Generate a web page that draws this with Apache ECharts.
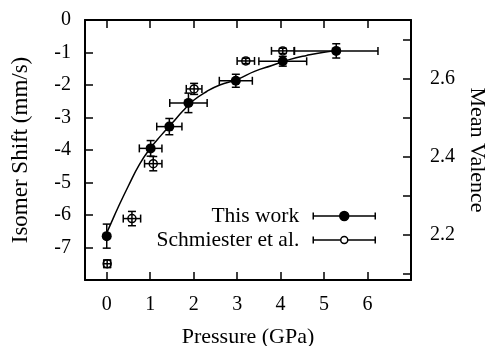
<!DOCTYPE html>
<html>
<head>
<meta charset="utf-8">
<script src="https://cdn.jsdelivr.net/npm/echarts@6/dist/echarts.min.js"></script>
<style>
  html, body { margin: 0; padding: 0; background: #fff; }
  #chart { width: 493px; height: 346px; }
</style>
</head>
<body>
<div id="chart"></div>
<script>
// this work
const thisP = [0, 1.01, 1.44, 1.88, 2.97, 4.05, 5.28]
const thisIS = [-6.65, -3.95, -3.28, -2.55, -1.87, -1.27, -0.95]
const thisPErr = [0, 0.26, 0.29, 0.43, 0.38, 0.55, 0.96]
const thisISErr = [0.37, 0.24, 0.25, 0.3, 0.2, 0.15, 0.22]

// Schmiester et al.
const schP = [0.01, 0.58, 1.07, 2.01, 3.2, 4.05]
const schIS = [-7.5, -6.11, -4.42, -2.12, -1.26, -0.95]
const schPErr = [0.08, 0.2, 0.2, 0.18, 0.2, 0.26]
const schISErr = [0.12, 0.22, 0.22, 0.17, 0.08, 0.08]

// fit curve
const fitP = [0, 0.1, 0.25, 0.5, 0.75, 1.0, 1.25, 1.5, 1.75, 2.0, 2.3, 2.6, 3.0, 3.4, 3.8, 4.2, 4.6, 5.0, 5.3]
const fitIS = [-6.55, -6.25, -5.8, -5.1, -4.45, -3.95, -3.55, -3.18, -2.8, -2.47, -2.2, -2.0, -1.83, -1.58, -1.4, -1.22, -1.09, -0.99, -0.95]

const pressureTicks = [0, 1, 2, 3, 4, 5, 6]
const valenceTicks = [2.1, 2.2, 2.3, 2.4, 2.5, 2.6, 2.7]
const valenceLabels = [2.2, 2.4, 2.6]

const FONT = 'Liberation Serif'

const errData = (p, is, pe, ie) => p.map((v, i) => [v, is[i], pe[i], ie[i]])

const renderErr = (params, api) => {
  const x = api.value(0), y = api.value(1)
  const xe = api.value(2), ye = api.value(3)
  const style = { stroke: '#000', lineWidth: 1.5 }
  const cap = 4
  const children = []
  if (ye > 0) {
    const a = api.coord([x, y + ye]), b = api.coord([x, y - ye])
    children.push({ type: 'line', shape: { x1: a[0], y1: a[1], x2: b[0], y2: b[1] }, style })
    children.push({ type: 'line', shape: { x1: a[0] - cap, y1: a[1], x2: a[0] + cap, y2: a[1] }, style })
    children.push({ type: 'line', shape: { x1: b[0] - cap, y1: b[1], x2: b[0] + cap, y2: b[1] }, style })
  }
  if (xe > 0) {
    const a = api.coord([x - xe, y]), b = api.coord([x + xe, y])
    children.push({ type: 'line', shape: { x1: a[0], y1: a[1], x2: b[0], y2: b[1] }, style })
    children.push({ type: 'line', shape: { x1: a[0], y1: a[1] - cap, x2: a[0], y2: a[1] + cap }, style })
    children.push({ type: 'line', shape: { x1: b[0], y1: b[1] - cap, x2: b[0], y2: b[1] + cap }, style })
  }
  return { type: 'group', children }
}

const legendIconFilled = 'path://M0,0M62,9M0,4.5L62,4.5M0,1L0,8M62,1L62,8M35.5,4.5A4.5,4.5,0,1,1,26.5,4.5A4.5,4.5,0,1,1,35.5,4.5Z'
const legendIconOpen = 'path://M0,0M62,9M0,4.5L27.5,4.5M34.5,4.5L62,4.5M0,1L0,8M62,1L62,8M34.5,4.5A3.5,3.5,0,1,1,27.5,4.5A3.5,3.5,0,1,1,34.5,4.5Z'

const chart = echarts.init(document.getElementById('chart'))

const axisLine = { show: true, onZero: false, lineStyle: { color: '#000', width: 2 } }
const tickStyle = { color: '#000', width: 1.5 }

chart.setOption({
  animation: false,
  textStyle: { fontFamily: FONT },
  grid: { left: 85, top: 20, right: 82, bottom: 66, containLabel: false, outerBoundsMode: 'none' },
  legend: {
    orient: 'vertical',
    right: 112,
    top: 200,
    align: 'right',
    itemWidth: 62,
    itemHeight: 9,
    itemGap: 2,
    selectedMode: false,
    textStyle: { fontFamily: FONT, fontSize: 21.5, color: '#000', lineHeight: 21, padding: [0, 9, 0, 0] },
    data: [
      { name: 'This work', icon: legendIconFilled, itemStyle: { color: '#000', borderColor: '#000', borderWidth: 1.5 } },
      { name: 'Schmiester et al.', icon: legendIconOpen, itemStyle: { color: 'rgba(0,0,0,0)', borderColor: '#000', borderWidth: 1.5 } }
    ]
  },
  xAxis: [
    {
      type: 'value',
      position: 'bottom',
      min: -0.5,
      max: 7,
      name: 'Pressure (GPa)',
      nameLocation: 'middle',
      nameGap: 46,
      nameTextStyle: { fontFamily: FONT, fontSize: 22, color: '#000' },
      axisLine,
      axisTick: { show: true, inside: true, length: 8, lineStyle: tickStyle, customValues: pressureTicks },
      axisLabel: { fontFamily: FONT, fontSize: 20, color: '#000', margin: 15, customValues: pressureTicks },
      splitLine: { show: false }
    },
    {
      type: 'value',
      position: 'top',
      min: -0.5,
      max: 7,
      axisLine,
      axisTick: { show: true, inside: true, length: 8, lineStyle: tickStyle, customValues: pressureTicks },
      axisLabel: { show: false },
      splitLine: { show: false }
    }
  ],
  yAxis: [
    {
      type: 'value',
      position: 'left',
      min: -8,
      max: 0,
      interval: 1,
      name: 'Isomer Shift (mm/s)',
      nameLocation: 'middle',
      nameRotate: 90,
      nameGap: 53,
      nameTextStyle: { fontFamily: FONT, fontSize: 23, color: '#000' },
      axisLine,
      axisTick: { show: true, inside: true, length: 8, lineStyle: tickStyle },
      axisLabel: {
        fontFamily: FONT, fontSize: 20, color: '#000', margin: 14,
        formatter: v => (v === -8 ? '' : String(v))
      },
      splitLine: { show: false }
    },
    {
      type: 'value',
      position: 'right',
      min: 2.75 - 8 / 12,
      max: 2.75,
      name: 'Mean Valence',
      nameLocation: 'middle',
      nameRotate: -90,
      nameGap: 48,
      nameTextStyle: { fontFamily: FONT, fontSize: 22, color: '#000' },
      axisLine,
      axisTick: { show: true, inside: true, length: 8, lineStyle: tickStyle, customValues: valenceTicks },
      axisLabel: {
        fontFamily: FONT, fontSize: 20, color: '#000', margin: 19,
        customValues: valenceLabels,
        formatter: v => v.toFixed(1)
      },
      splitLine: { show: false }
    }
  ],
  series: [
    {
      name: 'fit',
      type: 'line',
      data: fitP.map((p, i) => [p, fitIS[i]]),
      smooth: true,
      showSymbol: false,
      symbol: 'none',
      lineStyle: { color: '#000', width: 1.5 },
      z: 1
    },
    {
      name: 'thisErr',
      type: 'custom',
      renderItem: renderErr,
      data: errData(thisP, thisIS, thisPErr, thisISErr),
      z: 2
    },
    {
      name: 'schErr',
      type: 'custom',
      renderItem: renderErr,
      data: errData(schP, schIS, schPErr, schISErr),
      z: 2
    },
    {
      name: 'This work',
      type: 'scatter',
      data: thisP.map((p, i) => [p, thisIS[i]]),
      symbol: 'circle',
      symbolSize: 10,
      itemStyle: { color: '#000', opacity: 1 },
      z: 3
    },
    {
      name: 'Schmiester et al.',
      type: 'scatter',
      data: schP.map((p, i) => [p, schIS[i]]),
      symbol: 'circle',
      symbolSize: 8,
      itemStyle: { color: 'rgba(0,0,0,0)', borderColor: '#000', borderWidth: 1.5, opacity: 1 },
      z: 3
    }
  ]
})
</script>
</body>
</html>
